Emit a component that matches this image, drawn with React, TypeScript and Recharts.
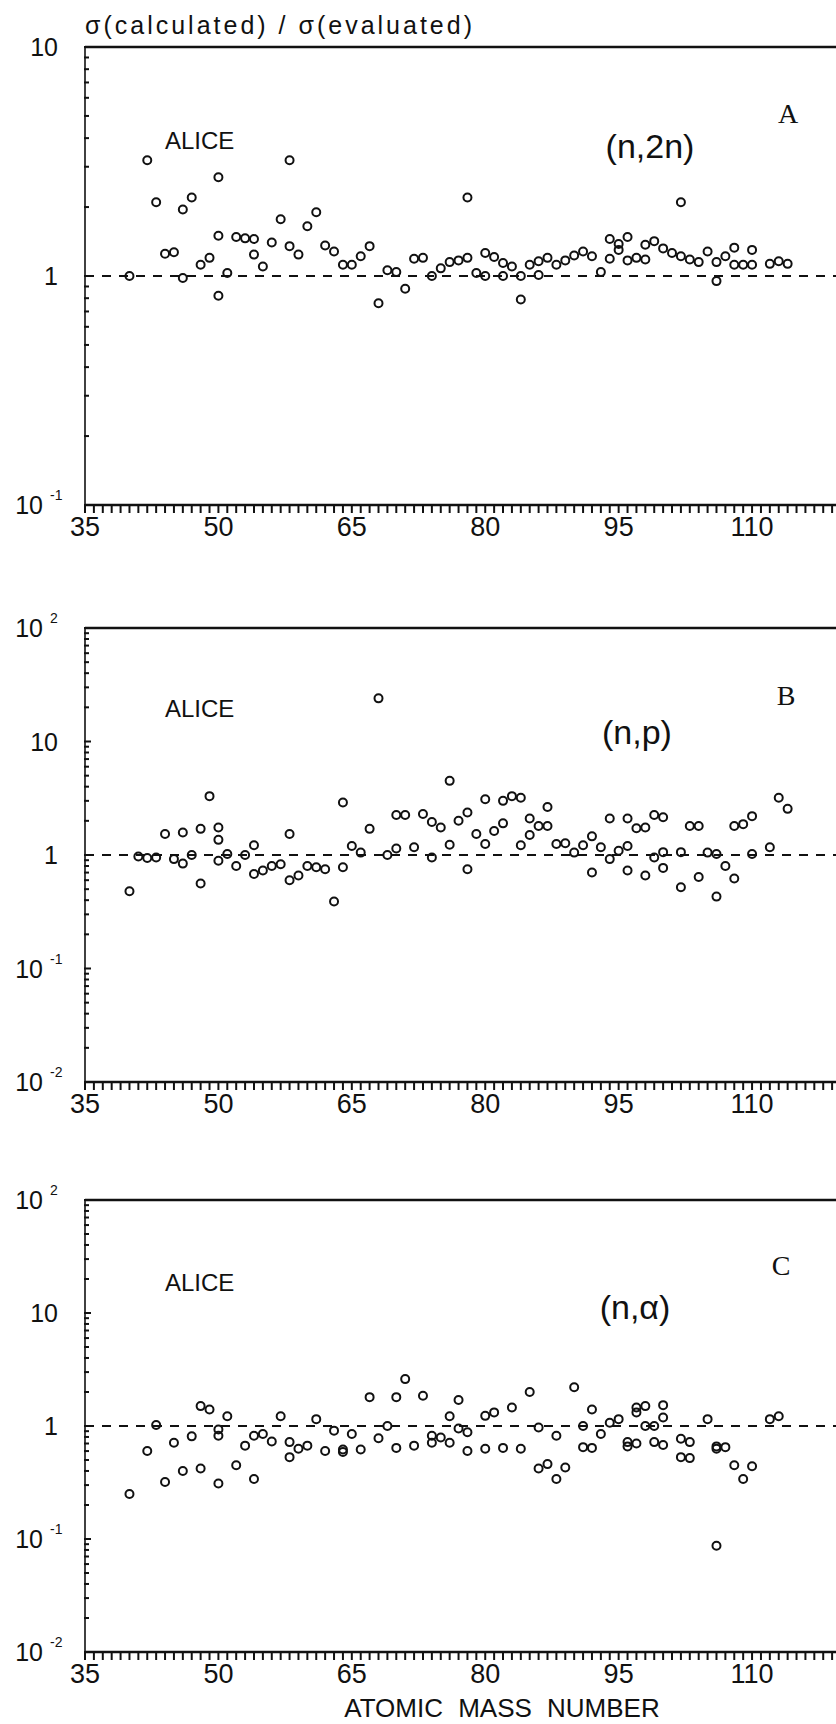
import React from 'react';
import { ScatterChart, Scatter, XAxis, YAxis, ReferenceLine } from 'recharts';

// sigma(calculated)/sigma(evaluated) vs atomic mass number, ALICE code
const N2N_POINTS = [
  [40, 1.0], [42, 3.2], [43, 2.1], [44, 1.25], [45, 1.27], [46, 1.95], [46, 0.98], [47, 2.2],
  [48, 1.12], [49, 1.2], [50, 2.7], [50, 1.5], [50, 0.82], [51, 1.03], [52, 1.48], [53, 1.46],
  [54, 1.45], [54, 1.24], [55, 1.1], [56, 1.4], [57, 1.77], [58, 3.2], [58, 1.35], [59, 1.24],
  [60, 1.65], [61, 1.9], [62, 1.36], [63, 1.28], [64, 1.12], [65, 1.12], [66, 1.22], [67, 1.35],
  [68, 0.76], [69, 1.06], [70, 1.04], [71, 0.88], [72, 1.19], [73, 1.2], [74, 1.0], [75, 1.08],
  [76, 1.15], [77, 1.17], [78, 1.2], [78, 2.2], [79, 1.03], [80, 1.26], [80, 1.0], [81, 1.21],
  [82, 1.14], [82, 1.0], [83, 1.1], [84, 1.0], [84, 0.79], [85, 1.12], [86, 1.16], [86, 1.01],
  [87, 1.2], [88, 1.12], [89, 1.17], [90, 1.23], [91, 1.28], [92, 1.22], [93, 1.04], [94, 1.19],
  [94, 1.45], [95, 1.38], [95, 1.3], [96, 1.48], [96, 1.17], [97, 1.2], [98, 1.18], [98, 1.37],
  [99, 1.42], [100, 1.32], [101, 1.26], [102, 1.22], [102, 2.1], [103, 1.18], [104, 1.15],
  [105, 1.28], [106, 1.15], [106, 0.95], [107, 1.22], [108, 1.33], [108, 1.12], [109, 1.12],
  [110, 1.12], [110, 1.3], [112, 1.13], [113, 1.16], [114, 1.13],
];

const NP_POINTS = [
  [40, 0.48], [41, 0.97], [42, 0.94], [43, 0.95], [44, 1.53], [45, 0.92], [46, 0.84], [46, 1.58],
  [47, 1.0], [48, 1.7], [48, 0.56], [49, 3.3], [50, 1.75], [50, 1.36], [50, 0.89], [51, 1.02],
  [52, 0.8], [53, 1.0], [54, 1.22], [54, 0.68], [55, 0.73], [56, 0.8], [57, 0.83], [58, 1.53],
  [58, 0.6], [59, 0.66], [60, 0.8], [61, 0.78], [62, 0.75], [63, 0.39], [64, 0.78], [64, 2.9],
  [65, 1.2], [66, 1.05], [67, 1.7], [68, 24], [69, 1.0], [70, 1.14], [70, 2.25], [71, 2.25],
  [72, 1.17], [73, 2.3], [74, 1.95], [74, 0.95], [75, 1.75], [76, 4.5], [76, 1.23], [77, 2.0],
  [78, 2.37], [78, 0.75], [79, 1.53], [80, 1.25], [80, 3.1], [81, 1.63], [82, 1.9], [82, 3.0],
  [83, 3.3], [84, 3.2], [84, 1.22], [85, 2.1], [85, 1.5], [86, 1.8], [87, 1.8], [87, 2.65],
  [88, 1.25], [89, 1.27], [90, 1.05], [91, 1.22], [92, 1.46], [92, 0.7], [93, 1.17], [94, 0.92],
  [95, 1.09], [96, 1.2], [94, 2.1], [96, 2.1], [96, 0.73], [97, 1.72], [98, 1.75], [98, 0.66],
  [99, 0.95], [100, 1.06], [99, 2.25], [100, 2.15], [100, 0.77], [102, 0.52], [102, 1.06],
  [103, 1.8], [104, 1.8], [104, 0.64], [105, 1.05], [106, 1.02], [106, 0.43], [107, 0.8],
  [108, 0.62], [108, 1.8], [109, 1.87], [110, 2.2], [110, 1.02], [112, 1.17], [113, 3.2], [114, 2.55],
];

const NALPHA_POINTS = [
  [40, 0.25], [42, 0.6], [43, 1.02], [44, 0.32], [45, 0.71], [46, 0.4], [47, 0.81], [48, 0.42],
  [48, 1.5], [49, 1.4], [50, 0.82], [50, 0.93], [50, 0.31], [51, 1.22], [52, 0.45], [53, 0.67],
  [54, 0.34], [54, 0.82], [55, 0.85], [56, 0.73], [57, 1.22], [58, 0.72], [58, 0.53], [59, 0.63],
  [60, 0.67], [61, 1.15], [62, 0.6], [63, 0.91], [64, 0.62], [64, 0.59], [65, 0.85], [66, 0.62],
  [67, 1.8], [68, 0.78], [69, 1.0], [70, 1.8], [70, 0.64], [71, 2.6], [72, 0.67], [73, 1.85],
  [74, 0.82], [74, 0.71], [75, 0.79], [76, 0.71], [76, 1.22], [77, 1.7], [77, 0.95], [78, 0.88],
  [78, 0.6], [80, 1.23], [80, 0.63], [81, 1.32], [82, 0.64], [83, 1.46], [84, 0.63], [85, 2.0],
  [86, 0.97], [86, 0.42], [87, 0.46], [88, 0.82], [88, 0.34], [89, 0.43], [90, 2.2], [91, 0.65],
  [91, 1.0], [92, 1.4], [92, 0.64], [93, 0.85], [94, 1.07], [95, 1.15], [96, 0.72], [96, 0.66],
  [97, 1.32], [97, 1.46], [97, 0.7], [98, 1.0], [98, 1.5], [99, 1.0], [99, 0.72], [100, 1.53],
  [100, 1.19], [100, 0.68], [102, 0.77], [102, 0.53], [103, 0.72], [103, 0.52], [105, 1.15],
  [106, 0.63], [106, 0.087], [106, 0.66], [107, 0.65], [108, 0.45], [109, 0.34], [110, 0.44],
  [112, 1.15], [113, 1.22],
];

const X_LABELS = [35, 50, 65, 80, 95, 110];
const X_MIN = 35;
const X_MAX = 120;

const FONT = '"Liberation Sans", Arial, sans-serif';
const INK = '#111';

const xTicks = Array.from({ length: X_MAX - X_MIN + 1 }, (_, i) => X_MIN + i);

const logTicks = (lo: number, hi: number) => {
  const out: number[] = [];
  for (let e = lo; e < hi; e++) {
    for (let m = 1; m < 10; m++) out.push(Number((m * Math.pow(10, e)).toPrecision(3)));
  }
  out.push(Math.pow(10, hi));
  return out;
};

const toRows = (pts: number[][]) => pts.map(([a, r]) => ({ a, r }));

// y arrives 5px below the axis line (tickSize 5, tickMargin 0)
const XTick = (props: any) => {
  const { x, y, payload } = props;
  const v = payload.value;
  const labelled = X_LABELS.includes(v);
  return (
    <g>
      <line x1={x} x2={x} y1={y - 5} y2={y + 3} stroke={INK} strokeWidth={2} />
      {labelled && (
        <text x={x} y={y + 17} textAnchor="middle" dominantBaseline="central" fontSize={27} fontFamily={FONT} fill={INK}>
          {v}
        </text>
      )}
    </g>
  );
};

const YTick = (props: any) => {
  const { x, y, payload } = props;
  const v = payload.value;
  const lg = Math.log10(v);
  const e = Math.round(lg);
  const major = Math.abs(lg - e) < 1e-6;
  let label = null;
  if (major) {
    if (e === 0 || e === 1) {
      label = (
        <text x={x - 27} y={y} textAnchor="end" dominantBaseline="central" fontSize={25} fontFamily={FONT} fill={INK}>
          {e === 0 ? '1' : '10'}
        </text>
      );
    } else {
      label = (
        <g>
          <text x={x - 42} y={y} textAnchor="end" dominantBaseline="central" fontSize={25} fontFamily={FONT} fill={INK}>
            10
          </text>
          <text x={x - 35} y={y - 10} textAnchor="start" dominantBaseline="central" fontSize={14} fontFamily={FONT} fill={INK}>
            {e > 0 ? String(e) : '-' + String(-e)}
          </text>
        </g>
      );
    }
  }
  return (
    <g>
      <line x1={x - 1} x2={x + (major ? 6 : 4)} y1={y} y2={y} stroke={INK} strokeWidth={2} />
      {label}
    </g>
  );
};

const Ring = (props: any) => (
  <circle cx={props.cx} cy={props.cy} r={4} fill="none" stroke={INK} strokeWidth={2} />
);

const Panel = ({ top, marginTop, height, data, lo, hi }: any) => (
  <div style={{ position: 'absolute', left: 0, top }}>
    <ScatterChart width={846} height={height} margin={{ top: marginTop, right: 5, bottom: 0, left: 0 }}>
      <XAxis
        type="number"
        dataKey="a"
        domain={[X_MIN, X_MAX]}
        ticks={xTicks}
        interval={0}
        allowDataOverflow
        height={40}
        tickSize={5}
        tickMargin={0}
        axisLine={{ stroke: INK, strokeWidth: 2.6 }}
        tickLine={false}
        tick={(p: any) => <XTick {...p} />}
      />
      <YAxis
        type="number"
        dataKey="r"
        scale="log"
        domain={[Math.pow(10, lo), Math.pow(10, hi)]}
        ticks={logTicks(lo, hi)}
        interval={0}
        allowDataOverflow
        width={85}
        tickSize={0}
        tickMargin={0}
        tickLine={false}
        axisLine={{ stroke: INK, strokeWidth: 1.6 }}
        tick={(p: any) => <YTick {...p} />}
      />
      <ReferenceLine y={Math.pow(10, hi)} stroke={INK} strokeWidth={2.6} />
      <ReferenceLine y={1} stroke={INK} strokeWidth={2} strokeDasharray="9 8" />
      <Scatter data={data} shape={Ring} isAnimationActive={false} />
    </ScatterChart>
  </div>
);

const PANEL_TEXT = [
  { letter: 'A', reaction: '(n,2n)', alice: 140, react: 146, letterX: 788, letterY: 113, reactX: 650 },
  { letter: 'B', reaction: '(n,p)', alice: 708, react: 732, letterX: 786, letterY: 695, reactX: 637 },
  { letter: 'C', reaction: '(n,\u03b1)', alice: 1282, react: 1307, letterX: 781, letterY: 1265, reactX: 635 },
];

export default function App() {
  return (
    <div style={{ position: 'absolute', left: 0, top: 0, width: 836, height: 1724, overflow: 'hidden', background: '#fff' }}>
      <Panel top={0} marginTop={47} height={545} data={toRows(N2N_POINTS)} lo={-1} hi={1} />
      <Panel top={600} marginTop={28} height={522} data={toRows(NP_POINTS)} lo={-2} hi={2} />
      <Panel top={1180} marginTop={20} height={512} data={toRows(NALPHA_POINTS)} lo={-2} hi={2} />
      <svg width={836} height={1724} style={{ position: 'absolute', left: 0, top: 0, pointerEvents: 'none' }}>
        <text x={85} y={25} dominantBaseline="central" fontSize={25} fontFamily={FONT} fill={INK} letterSpacing={3}>
          {'\u03c3(calculated) / \u03c3(evaluated)'}
        </text>
        {PANEL_TEXT.map((t) => (
          <g key={t.letter}>
            <text x={165} y={t.alice} dominantBaseline="central" fontSize={24} fontFamily={FONT} fill={INK}>
              ALICE
            </text>
            <text x={t.reactX} y={t.react} textAnchor="middle" dominantBaseline="central" fontSize={34} fontFamily={FONT} fill={INK}>
              {t.reaction}
            </text>
            <text x={t.letterX} y={t.letterY} textAnchor="middle" dominantBaseline="central" fontSize={28} fontFamily='"Liberation Serif", serif' fill={INK}>
              {t.letter}
            </text>
          </g>
        ))}
        <text x={502} y={1708} textAnchor="middle" dominantBaseline="central" fontSize={26} fontFamily={FONT} fill={INK} wordSpacing={8}>
          ATOMIC MASS NUMBER
        </text>
      </svg>
    </div>
  );
}
